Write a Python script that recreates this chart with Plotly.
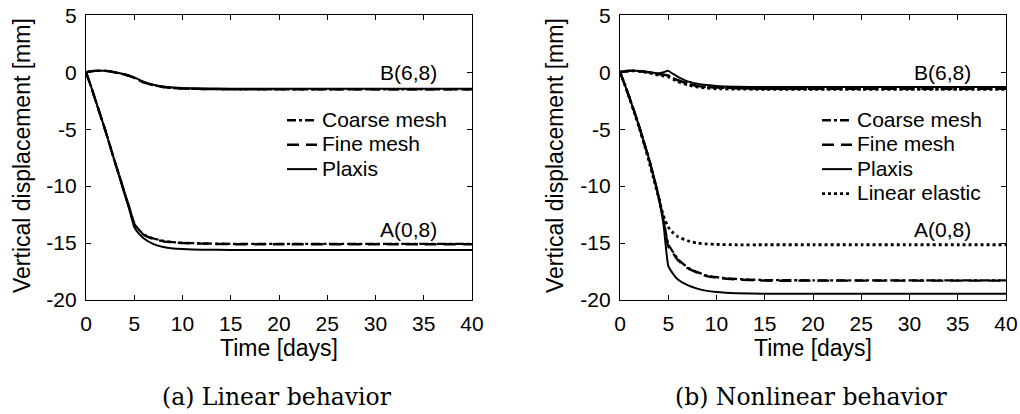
import plotly.graph_objects as go

W, H = 1020, 414

# ---------------- data ----------------
t = [0, 0.5, 1, 1.5, 2, 2.5, 3, 3.5, 4, 4.5, 5, 5.5, 6, 7, 8, 9, 10, 12, 15, 20, 25, 30, 35, 40]

# (a) Linear behavior
lin_A_plaxis = [0, -1.2, -2.5, -3.8, -5.1, -6.5, -7.9, -9.3, -10.7, -12.1, -13.6, -14.2, -14.6, -15.1, -15.35, -15.47, -15.53, -15.58, -15.6, -15.6, -15.6, -15.6, -15.6, -15.6]
lin_A_fine = [0, -1.2, -2.5, -3.8, -5.1, -6.5, -7.9, -9.2, -10.6, -11.9, -13.3, -13.9, -14.3, -14.65, -14.85, -14.95, -15.0, -15.05, -15.1, -15.1, -15.1, -15.1, -15.1, -15.1]
lin_A_coarse = [0, -1.2, -2.5, -3.8, -5.1, -6.5, -7.9, -9.2, -10.6, -11.9, -13.3, -13.85, -14.25, -14.6, -14.8, -14.92, -14.98, -15.03, -15.07, -15.08, -15.08, -15.08, -15.08, -15.08]
lin_B_plaxis = [0, 0.08, 0.12, 0.14, 0.13, 0.08, 0.0, -0.08, -0.18, -0.3, -0.45, -0.65, -0.85, -1.1, -1.25, -1.33, -1.38, -1.42, -1.44, -1.45, -1.45, -1.45, -1.45, -1.45]
lin_B_fine = [0, 0.08, 0.12, 0.14, 0.12, 0.07, -0.02, -0.1, -0.2, -0.33, -0.5, -0.7, -0.9, -1.15, -1.3, -1.38, -1.43, -1.47, -1.5, -1.5, -1.5, -1.5, -1.5, -1.5]
lin_B_coarse = [0, 0.08, 0.12, 0.14, 0.12, 0.07, -0.02, -0.1, -0.2, -0.33, -0.5, -0.7, -0.9, -1.15, -1.3, -1.38, -1.43, -1.47, -1.5, -1.5, -1.5, -1.5, -1.5, -1.5]

# (b) Nonlinear behavior
nl_A_plaxis = [0, -1.1, -2.3, -3.5, -4.8, -6.2, -7.6, -9.2, -11.0, -13.3, -17.0, -17.7, -18.2, -18.7, -19.0, -19.2, -19.3, -19.4, -19.45, -19.45, -19.45, -19.45, -19.45, -19.45]
nl_A_fine = [0, -1.1, -2.3, -3.5, -4.8, -6.2, -7.6, -9.2, -10.9, -13.0, -15.3, -15.9, -16.5, -17.2, -17.6, -17.9, -18.05, -18.2, -18.3, -18.3, -18.3, -18.3, -18.3, -18.3]
nl_A_coarse = [0, -1.1, -2.3, -3.5, -4.8, -6.2, -7.6, -9.2, -10.9, -12.9, -15.1, -15.8, -16.4, -17.15, -17.55, -17.85, -18.0, -18.15, -18.25, -18.27, -18.27, -18.27, -18.27, -18.27]
nl_A_elastic = [0, -1.1, -2.3, -3.6, -4.9, -6.3, -7.8, -9.4, -11.0, -12.6, -13.6, -14.1, -14.45, -14.8, -15.0, -15.08, -15.12, -15.15, -15.15, -15.15, -15.15, -15.15, -15.15, -15.15]
nl_B_plaxis = [0, 0.08, 0.12, 0.13, 0.1, 0.05, 0.0, -0.05, -0.1, 0.0, 0.12, -0.15, -0.4, -0.8, -1.0, -1.12, -1.2, -1.27, -1.3, -1.3, -1.3, -1.3, -1.3, -1.3]
nl_B_fine = [0, 0.08, 0.12, 0.13, 0.1, 0.05, 0.0, -0.08, -0.15, -0.22, -0.3, -0.5, -0.7, -1.0, -1.2, -1.3, -1.35, -1.4, -1.45, -1.45, -1.45, -1.45, -1.45, -1.45]
nl_B_coarse = [0, 0.08, 0.12, 0.13, 0.1, 0.05, 0.0, -0.08, -0.15, -0.22, -0.3, -0.5, -0.7, -1.0, -1.2, -1.3, -1.35, -1.4, -1.45, -1.45, -1.45, -1.45, -1.45, -1.45]
nl_B_elastic = [0, 0.08, 0.12, 0.12, 0.08, 0.02, -0.05, -0.15, -0.25, -0.33, -0.42, -0.62, -0.82, -1.12, -1.3, -1.4, -1.45, -1.48, -1.5, -1.5, -1.5, -1.5, -1.5, -1.5]

x_ticks = [0, 5, 10, 15, 20, 25, 30, 35, 40]
y_ticks = [5, 0, -5, -10, -15, -20]
y_ticktext = ["5", "0", "-5", "-10", "-15", "-20"]
point_labels = ["B(6,8)", "A(0,8)"]
label_pos = [(33.4, 0.0), (33.4, -13.8)]
captions = ["(a) Linear behavior", "(b) Nonlinear behavior"]

# ---------------- styling ----------------
SANS = "Liberation Sans, Arial, sans-serif"
SERIF = "DejaVu Serif, serif"
FS = 21
BLACK = "#000"

styles = {
    "Coarse mesh": dict(dash="dashdot", width=2.3),
    "Fine mesh": dict(dash="12px,7px", width=2.4),
    "Plaxis": dict(dash="solid", width=2.0),
    "Linear elastic": dict(dash="dot", width=2.8),
}

fig = go.Figure()

def add(xaxis, yaxis, name, ys, legend, show):
    st = styles[name]
    fig.add_trace(go.Scatter(
        x=t, y=ys, mode="lines", xaxis=xaxis, yaxis=yaxis,
        name='<span style="font-size:21px">' + name + '</span>',
        line=dict(color=BLACK, width=st["width"], dash=st["dash"], shape="spline", smoothing=0.4),
        legend=legend, legendgroup=legend + name, showlegend=show,
    ))

# panel (a)
add("x", "y", "Coarse mesh", lin_B_coarse, "legend", True)
add("x", "y", "Coarse mesh", lin_A_coarse, "legend", False)
add("x", "y", "Fine mesh", lin_B_fine, "legend", True)
add("x", "y", "Fine mesh", lin_A_fine, "legend", False)
add("x", "y", "Plaxis", lin_B_plaxis, "legend", True)
add("x", "y", "Plaxis", lin_A_plaxis, "legend", False)
# panel (b)
add("x2", "y2", "Coarse mesh", nl_B_coarse, "legend2", True)
add("x2", "y2", "Coarse mesh", nl_A_coarse, "legend2", False)
add("x2", "y2", "Fine mesh", nl_B_fine, "legend2", True)
add("x2", "y2", "Fine mesh", nl_A_fine, "legend2", False)
add("x2", "y2", "Plaxis", nl_B_plaxis, "legend2", True)
add("x2", "y2", "Plaxis", nl_A_plaxis, "legend2", False)
add("x2", "y2", "Linear elastic", nl_B_elastic, "legend2", True)
add("x2", "y2", "Linear elastic", nl_A_elastic, "legend2", False)

# pixel geometry
def px(x):
    return x / W
def py(y):
    return 1 - y / H

x1dom = [px(86), px(472)]
x2dom = [px(620), px(1006)]
ydom = [py(300), py(15.3)]

axis_common = dict(
    showline=True, linecolor=BLACK, linewidth=1.3, mirror="ticks",
    ticks="inside", ticklen=5, tickwidth=1.2, tickcolor=BLACK,
    showgrid=False, zeroline=False, automargin=False,
    tickfont=dict(family=SANS, size=FS, color=BLACK),
)

legend_common = dict(xanchor="left", yanchor="top", bgcolor="rgba(0,0,0,0)",
                     font=dict(family=SANS, size=16.5, color=BLACK),
                     tracegroupgap=0, itemwidth=30)

fig.update_layout(
    width=W, height=H,
    margin=dict(l=0, r=0, t=0, b=0, autoexpand=False),
    paper_bgcolor="white", plot_bgcolor="white",
    xaxis=dict(domain=x1dom, anchor="y", range=[0, 40], tickvals=x_ticks,
               ticklabelstandoff=5, **axis_common),
    yaxis=dict(domain=ydom, anchor="x", range=[-20, 5], tickvals=y_ticks, ticktext=y_ticktext,
               ticklabelstandoff=4, **axis_common),
    xaxis2=dict(domain=x2dom, anchor="y2", range=[0, 40], tickvals=x_ticks,
                ticklabelstandoff=5, **axis_common),
    yaxis2=dict(domain=ydom, anchor="x2", range=[-20, 5], tickvals=y_ticks, ticktext=y_ticktext,
                ticklabelstandoff=4, **axis_common),
    legend=dict(x=px(282), y=py(103), **legend_common),
    legend2=dict(x=px(817), y=py(103), **legend_common),
)

ann = []
for xr, yr in (("x", "y"), ("x2", "y2")):
    for lab, (lx, ly) in zip(point_labels, label_pos):
        ann.append(dict(x=lx, y=ly, xref=xr, yref=yr, text=lab, showarrow=False,
                        xanchor="center", yanchor="middle",
                        font=dict(family=SANS, size=FS, color=BLACK)))
# axis titles
for cx, ty in ((279, 22), (813, 555)):
    ann.append(dict(x=px(cx), y=py(348), xref="paper", yref="paper", text="Time [days]",
                    showarrow=False, xanchor="center", yanchor="middle",
                    font=dict(family=SANS, size=23, color=BLACK)))
    ann.append(dict(x=px(ty), y=py(156), xref="paper", yref="paper", text="Vertical displacement [mm]",
                    showarrow=False, xanchor="center", yanchor="middle", textangle=-90,
                    font=dict(family=SANS, size=23, color=BLACK)))
# captions
for cx, cap in zip((277, 811), captions):
    ann.append(dict(x=px(cx), y=py(397), xref="paper", yref="paper", text=cap,
                    showarrow=False, xanchor="center", yanchor="middle",
                    font=dict(family=SERIF, size=23.5, color=BLACK)))

fig.update_layout(annotations=ann)
fig.write_html("out.html", config={"displayModeBar": False},
               post_script="document.body.style.margin='0';document.body.style.overflow='hidden';")
